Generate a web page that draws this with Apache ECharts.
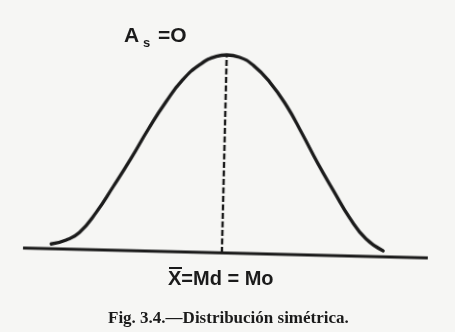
<!DOCTYPE html>
<html>
<head>
<meta charset="utf-8">
<script src="https://cdn.jsdelivr.net/npm/echarts@6/dist/echarts.min.js"></script>
<style>
  html, body { margin: 0; padding: 0; width: 455px; height: 332px; overflow: hidden; background: #f6f6f4; }
  #plot, #labels { position: absolute; left: 0; top: 0; width: 455px; height: 332px; }
  /* the printed figure sits slightly askew on the page */
  #plot { transform: rotate(1.4deg); transform-origin: 227.5px 166px; }
</style>
</head>
<body>
<div id="plot"></div>
<div id="labels"></div>
<script>
// Symmetric distribution: horizontal position in standard units, relative height (peak = 100)
const curveX = [-3.35, -3.06, -2.80, -2.48, -2.16, -1.83, -1.50, -1.17, -0.85, -0.51, -0.20, 0,
                0.25, 0.53, 0.86, 1.20, 1.51, 1.84, 2.17, 2.49, 2.82, 3.16];
const curveY = [2.4, 4.6, 8.6, 19.0, 32.2, 46.4, 61.6, 75.5, 86.9, 95.0, 99.2, 100,
                99.0, 95.0, 86.7, 75.0, 61.5, 46.3, 32.3, 19.2, 8.8, 3.0];
// Horizontal axis extent
const axisEnds = [-3.9, 4.1];
// Mean = median = mode, and the height of the curve there
const centre = 0;
const peak = 100;

// Text on the figure
const skewLabel = ['A', 's', '=O'];
const centreLabel = 'X=Md = Mo';
const caption = 'Fig. 3.4.—Distribución simétrica.';

const ink = '#1b1b1b';

const plot = echarts.init(document.getElementById('plot'), null, { renderer: 'canvas' });
plot.setOption({
  animation: false,
  backgroundColor: 'transparent',
  grid: { left: 20, right: 27, top: 55, bottom: 79 },
  xAxis: { type: 'value', min: -4, max: 4, show: false },
  yAxis: { type: 'value', min: 0, max: 100, show: false },
  series: [
    {
      name: 'eje',
      type: 'line',
      data: axisEnds.map(x => [x, 0]),
      symbol: 'none',
      clip: false,
      lineStyle: { color: ink, width: 3 }
    },
    {
      name: 'media',
      type: 'line',
      data: [[centre, 0], [centre, peak]],
      symbol: 'none',
      clip: false,
      lineStyle: { color: ink, width: 2.4, type: [6, 2.5] }
    },
    {
      name: 'curva',
      type: 'line',
      data: curveX.map((x, i) => [x, curveY[i]]),
      smooth: 0.5,
      symbol: 'none',
      clip: false,
      lineStyle: { color: ink, width: 3.3, cap: 'round', join: 'round' }
    }
  ]
});

const sans = '"Liberation Sans", Arial, sans-serif';
const serif = '"Liberation Serif", "Times New Roman", serif';
function txt(x, y, text, font) {
  return {
    type: 'text', x: x, y: y, silent: true,
    style: { text: text, font: font, fill: ink, align: 'left', verticalAlign: 'middle',
             textAlign: 'left', textVerticalAlign: 'middle' }
  };
}

const labels = echarts.init(document.getElementById('labels'), null, { renderer: 'canvas' });
labels.setOption({
  animation: false,
  backgroundColor: 'transparent',
  graphic: [
    txt(124, 36, skewLabel[0], 'bold 21px ' + sans),
    txt(143, 43, skewLabel[1], 'bold 13px ' + sans),
    txt(158, 36, skewLabel[2], 'bold 21px ' + sans),
    txt(168, 279, centreLabel, 'bold 20px ' + sans),
    { type: 'line', silent: true, shape: { x1: 169, y1: 268, x2: 182, y2: 268 },
      style: { stroke: ink, lineWidth: 2 } },
    txt(108, 319, caption, 'bold 17px ' + serif)
  ]
});
</script>
</body>
</html>
